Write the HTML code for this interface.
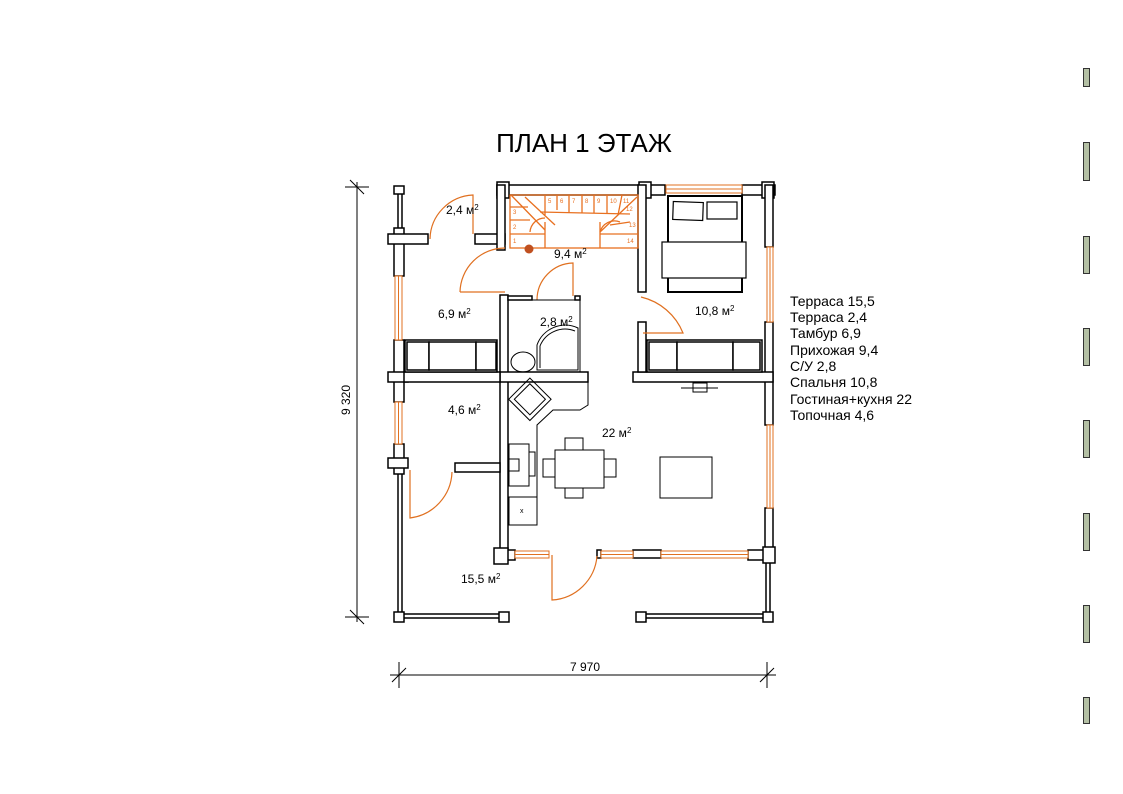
<!DOCTYPE html>
<html><head><meta charset="utf-8"><style>
html,body{margin:0;padding:0;background:#fff;}
svg{display:block;font-family:"Liberation Sans",sans-serif;}
</style></head><body>
<svg width="1123" height="794" viewBox="0 0 1123 794" xmlns="http://www.w3.org/2000/svg">
<rect width="1123" height="794" fill="#fff"/>
<g fill="#b4c0a4" stroke="#333" stroke-width="1">
<rect x="1083.5" y="68.5" width="6" height="18"/>
<rect x="1083.5" y="142.5" width="6" height="38"/>
<rect x="1083.5" y="236.5" width="6" height="37"/>
<rect x="1083.5" y="328.5" width="6" height="37"/>
<rect x="1083.5" y="420.5" width="6" height="37"/>
<rect x="1083.5" y="513.5" width="6" height="37"/>
<rect x="1083.5" y="605.5" width="6" height="37"/>
<rect x="1083.5" y="697.5" width="6" height="26"/>
</g>
<text x="584" y="152" font-size="26" text-anchor="middle">ПЛАН 1 ЭТАЖ</text>
<g stroke="#000" stroke-width="1">
<line x1="357" y1="182" x2="357" y2="622"/>
<line x1="345" y1="187" x2="369" y2="187"/><line x1="350" y1="180" x2="364" y2="194"/>
<line x1="345" y1="617" x2="369" y2="617"/><line x1="350" y1="610" x2="364" y2="624"/>
<line x1="390" y1="675" x2="776" y2="675"/>
<line x1="399" y1="662" x2="399" y2="688"/><line x1="392" y1="682" x2="406" y2="668"/>
<line x1="767" y1="662" x2="767" y2="688"/><line x1="760" y1="682" x2="774" y2="668"/>
</g>
<text x="350" y="400" font-size="12" text-anchor="middle" transform="rotate(-90 350 400)">9 320</text>
<text x="585" y="671" font-size="12" text-anchor="middle">7 970</text>
<g fill="#fff" stroke="#000" stroke-width="1.5">
<rect x="398" y="190" width="4" height="45"/>
<rect x="398" y="470" width="4" height="148"/>
<rect x="402" y="614" width="100" height="4"/>
<rect x="640" y="614" width="126" height="4"/>
<rect x="766" y="558" width="4" height="58"/>
<rect x="394" y="186" width="10" height="8"/>
<rect x="394" y="612" width="10" height="10"/>
<rect x="499" y="612" width="10" height="10"/>
<rect x="636" y="612" width="10" height="10"/>
<rect x="763" y="612" width="10" height="10"/>
<rect x="394" y="228" width="10" height="48"/>
<rect x="394" y="340" width="10" height="62"/>
<rect x="394" y="444" width="10" height="30"/>
<rect x="388" y="234" width="40" height="10"/>
<rect x="388" y="372" width="20" height="10"/>
<rect x="388" y="458" width="20" height="10"/>
<rect x="475" y="234" width="30" height="10"/>
<rect x="497" y="185" width="168" height="10"/>
<rect x="497" y="182" width="12" height="16"/>
<rect x="497" y="185" width="8" height="65"/>
<rect x="639" y="182" width="12" height="16"/>
<rect x="638" y="185" width="8" height="107"/>
<rect x="742" y="185" width="33" height="10"/>
<rect x="762" y="182" width="12" height="16"/>
<rect x="765" y="185" width="8" height="62"/>
<rect x="765" y="322" width="8" height="103"/>
<rect x="765" y="508" width="8" height="52"/>
<rect x="500" y="295" width="8" height="255"/>
<rect x="508" y="296" width="24" height="4"/>
<rect x="575" y="296" width="5" height="4"/>
<rect x="455" y="463" width="45" height="9"/>
<rect x="500" y="372" width="88" height="10"/>
<rect x="404" y="372" width="96" height="10"/>
<rect x="633" y="372" width="140" height="10"/>
<rect x="638" y="322" width="8" height="50"/>
<rect x="497" y="550" width="18" height="10"/>
<rect x="494" y="548" width="14" height="16"/>
<rect x="597" y="550" width="4" height="8"/>
<rect x="633" y="550" width="28" height="8"/>
<rect x="748" y="550" width="25" height="10"/>
<rect x="763" y="547" width="12" height="16"/>
</g>
<g fill="#fff" stroke="#e07020" stroke-width="1">
<rect x="666" y="185" width="76" height="8"/>
<rect x="767" y="247" width="6" height="75"/>
<rect x="767" y="425" width="6" height="83"/>
<rect x="395" y="276" width="7" height="64"/>
<rect x="395" y="402" width="7" height="42"/>
<rect x="515" y="551" width="34" height="7"/>
<rect x="601" y="551" width="32" height="7"/>
<rect x="661" y="551" width="87" height="7"/>
</g>
<g stroke="#e07020" stroke-width="1">
<line x1="666" y1="189" x2="742" y2="189"/>
<line x1="770" y1="247" x2="770" y2="322"/>
<line x1="770" y1="425" x2="770" y2="508"/>
<line x1="398.5" y1="276" x2="398.5" y2="340"/>
<line x1="398.5" y1="402" x2="398.5" y2="444"/>
<line x1="515" y1="554.5" x2="549" y2="554.5"/>
<line x1="601" y1="554.5" x2="633" y2="554.5"/>
<line x1="661" y1="554.5" x2="748" y2="554.5"/>
</g>
<g fill="none" stroke="#e07020" stroke-width="1.2">
<path d="M430 239 A45 45 0 0 1 473 195 L473 234"/>
<path d="M460 292 A45 45 0 0 1 505 248"/><line x1="460" y1="292" x2="505" y2="292"/>
<path d="M537 300 A37 37 0 0 1 573 263 L573 296"/>
<path d="M641 297 A60 60 0 0 1 683 333 L643 333"/>
<path d="M410 470 L410 518 A48 48 0 0 0 452 472"/>
<path d="M552 555 L552 600 A48 48 0 0 0 597 556"/>
</g>
<g fill="none" stroke="#e87020" stroke-width="1.3">
<rect x="510" y="195" width="128" height="53"/>
<line x1="510" y1="234" x2="545" y2="234"/><line x1="545" y1="222" x2="545" y2="248"/>
<line x1="510" y1="220" x2="530" y2="220"/><line x1="510" y1="207" x2="528" y2="207"/>
<line x1="600" y1="234" x2="638" y2="234"/><line x1="600" y1="222" x2="600" y2="248"/>
<line x1="545" y1="195" x2="545" y2="215"/><line x1="557" y1="195" x2="557" y2="210"/>
<line x1="569" y1="195" x2="569" y2="213"/><line x1="582" y1="195" x2="582" y2="213"/>
<line x1="594" y1="195" x2="594" y2="213"/><line x1="607" y1="195" x2="607" y2="213"/>
<line x1="622" y1="195" x2="618" y2="215"/>
<line x1="511" y1="195" x2="545" y2="230"/><line x1="525" y1="197" x2="555" y2="225"/>
<line x1="540" y1="212" x2="630" y2="214"/><line x1="600" y1="232" x2="637" y2="197"/>
<line x1="610" y1="225" x2="630" y2="222"/>
<path d="M530 232 A15 15 0 0 1 545 218"/><path d="M600 232 A15 15 0 0 1 620 222"/>
</g>
<g font-size="6" fill="#e87020">
<text x="513" y="243">1</text><text x="513" y="229">2</text><text x="513" y="214">3</text>
<text x="548" y="203">5</text><text x="560" y="203">6</text><text x="572" y="203">7</text><text x="585" y="203">8</text><text x="597" y="203">9</text><text x="610" y="203">10</text><text x="623" y="203">11</text><text x="626" y="211">12</text><text x="629" y="227">13</text><text x="627" y="243">14</text>
</g>
<circle cx="529" cy="249" r="4.5" fill="#c05020"/>
<g fill="#fff" stroke="#000" stroke-width="1.2">
<rect x="668" y="196" width="74" height="96" stroke-width="2"/>
<rect x="673" y="202" width="30" height="18" transform="rotate(2 688 211)"/>
<rect x="707" y="202" width="30" height="17"/>
<rect x="662" y="242" width="84" height="36"/>
</g>
<g fill="#fff" stroke="#000" stroke-width="1.5">
<rect x="405" y="340" width="92" height="32"/><rect x="407" y="342" width="22" height="28"/><rect x="429" y="342" width="47" height="28"/><rect x="476" y="342" width="20" height="28"/>
<rect x="647" y="340" width="115" height="32"/><rect x="649" y="342" width="28" height="28"/><rect x="677" y="342" width="56" height="28"/><rect x="733" y="342" width="27" height="28"/>
</g>
<g fill="none" stroke="#000" stroke-width="1">
<rect x="508" y="300" width="72" height="72"/>
<ellipse cx="523" cy="362" rx="12" ry="10"/>
<path d="M537 370 L537 345 A30 30 0 0 1 578 328 L578 370 Z"/>
<path d="M540 368 L540 346 A27 27 0 0 1 575 331"/>
<line x1="681" y1="388" x2="718" y2="388"/><rect x="693" y="383" width="14" height="9"/>
<path d="M509 382 L588 382 L588 405 L580 410 L553 410 L537 425 L537 525 L509 525"/>
<rect x="515" y="386" width="30" height="30" transform="rotate(45 532 400)"/>
<rect x="519" y="390" width="22" height="22" transform="rotate(45 532 400)"/>
<rect x="509" y="444" width="20" height="42"/><rect x="509" y="459" width="10" height="12"/>
<rect x="529" y="452" width="6" height="24"/>
<rect x="509" y="497" width="28" height="28"/>
<text x="520" y="513" font-size="7" stroke="none" fill="#000">x</text>
<rect x="555" y="450" width="49" height="38"/>
<rect x="565" y="438" width="18" height="12"/><rect x="565" y="488" width="18" height="10"/>
<rect x="543" y="459" width="12" height="18"/><rect x="604" y="459" width="12" height="18"/>
<rect x="660" y="457" width="52" height="41"/>
</g>
<g font-size="12" fill="#000">
<text x="446" y="214">2,4 м<tspan font-size="8" dy="-4">2</tspan></text>
<text x="554" y="258">9,4 м<tspan font-size="8" dy="-4">2</tspan></text>
<text x="438" y="318">6,9 м<tspan font-size="8" dy="-4">2</tspan></text>
<text x="540" y="326">2,8 м<tspan font-size="8" dy="-4">2</tspan></text>
<text x="695" y="315">10,8 м<tspan font-size="8" dy="-4">2</tspan></text>
<text x="448" y="414">4,6 м<tspan font-size="8" dy="-4">2</tspan></text>
<text x="602" y="437">22 м<tspan font-size="8" dy="-4">2</tspan></text>
<text x="461" y="583">15,5 м<tspan font-size="8" dy="-4">2</tspan></text>
</g>
<g font-size="14" fill="#000">
<text x="790" y="306">Терраса 15,5</text>
<text x="790" y="322">Терраса 2,4</text>
<text x="790" y="338">Тамбур 6,9</text>
<text x="790" y="355">Прихожая 9,4</text>
<text x="790" y="371">С/У 2,8</text>
<text x="790" y="387">Спальня 10,8</text>
<text x="790" y="404">Гостиная+кухня 22</text>
<text x="790" y="420">Топочная 4,6</text>
</g>
</svg>
</body></html>
